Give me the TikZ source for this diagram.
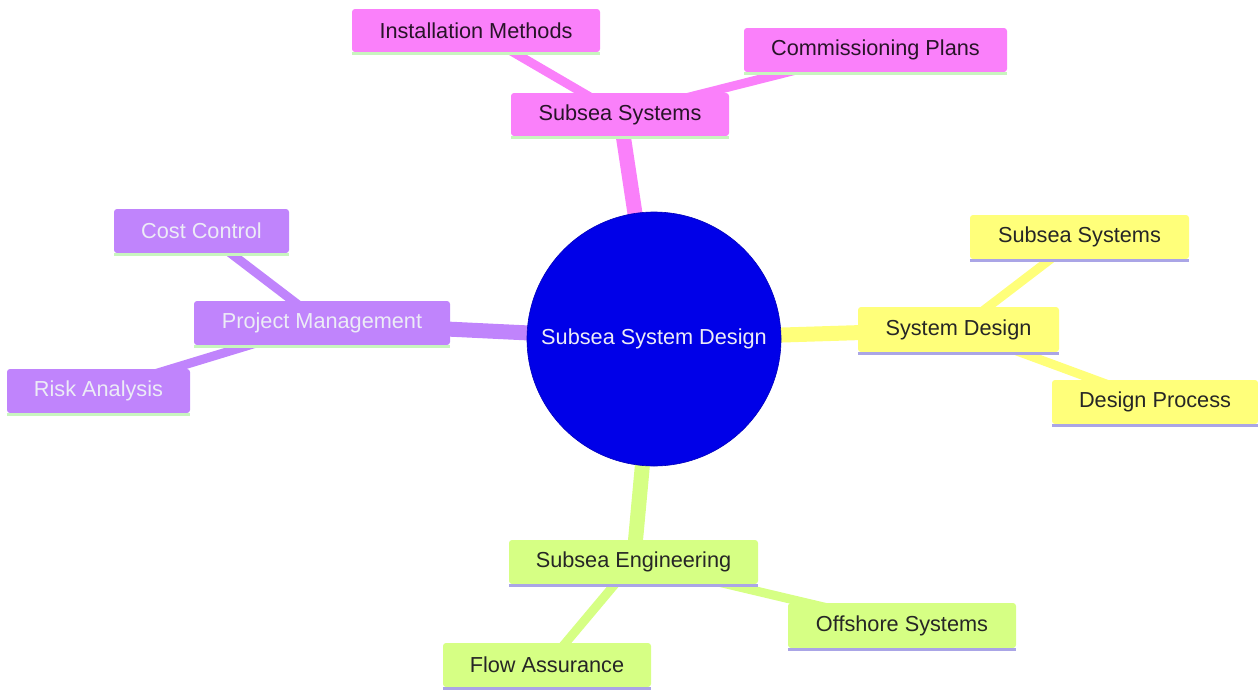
\documentclass[tikz,border=0pt]{standalone}
\usepackage{fontspec}
\setmainfont{Liberation Sans}
\usetikzlibrary{backgrounds}
\definecolor{cblue}{RGB}{0,0,232}
\definecolor{cpink}{RGB}{250,128,250}
\definecolor{cpurple}{RGB}{192,132,252}
\definecolor{cyellow}{RGB}{255,255,122}
\definecolor{cgreen}{RGB}{214,255,132}
\definecolor{ulgreen}{RGB}{200,245,190}
\definecolor{ullav}{RGB}{170,165,230}
\definecolor{ctextdark}{RGB}{40,20,40}
\definecolor{ctextlight}{RGB}{236,236,246}
\tikzset{
  lbl/.style={font=\fontsize{21.7}{26}\selectfont, inner sep=0pt, rounded corners=3pt},
  pinkbox/.style={lbl, fill=cpink, text=ctextdark},
  purplebox/.style={lbl, fill=cpurple, text=ctextlight},
  yellowbox/.style={lbl, fill=cyellow, text=black!85},
  greenbox/.style={lbl, fill=cgreen, text=black!85},
  rootnode/.style={circle, fill=cblue, draw=cblue!80!black, line width=0.6pt, text=ctextlight, font=\fontsize{21.7}{26}\selectfont, inner sep=0pt, minimum size=254},
  edgemain/.style={line width=15pt},
  edgesub/.style={line width=9pt},
  ulg/.style={draw=ulgreen, line width=3pt},
  ull/.style={draw=ullav, line width=3pt},
}
\begin{document}
\begin{tikzpicture}[x=1pt,y=-1pt]
\useasboundingbox (0,0) rectangle (1258,691);
\node[rootnode] (root) at (654,339) {Subsea System Design};
% pink section
\node[pinkbox, minimum width=218, minimum height=43] (ss1) at (620,114.5) {Subsea Systems};
\node[pinkbox, minimum width=248, minimum height=43] (inst) at (476,30.5) {Installation Methods};
\node[pinkbox, minimum width=263, minimum height=44] (comm) at (875.5,50) {Commissioning Plans};
% purple section
\node[purplebox, minimum width=256, minimum height=44] (pm) at (322,323) {Project Management};
\node[purplebox, minimum width=175, minimum height=44] (cost) at (201.5,231) {Cost Control};
\node[purplebox, minimum width=183, minimum height=44] (risk) at (98.5,391) {Risk Analysis};
% yellow section
\node[yellowbox, minimum width=201, minimum height=45] (sd) at (958.5,329.5) {System Design};
\node[yellowbox, minimum width=219, minimum height=44] (ss2) at (1079.5,237) {Subsea Systems};
\node[yellowbox, minimum width=206, minimum height=44] (dp) at (1155,402) {Design Process};
% green section
\node[greenbox, minimum width=249, minimum height=44] (se) at (633.5,562) {Subsea Engineering};
\node[greenbox, minimum width=228, minimum height=45] (off) at (902,625.5) {Offshore Systems};
\node[greenbox, minimum width=208, minimum height=44] (flow) at (547,665) {Flow Assurance};
% underlines
\foreach \n in {ss1,inst,comm,pm,cost,risk}{
  \draw[ulg] ([yshift=-1.5pt]\n.south west) -- ([yshift=-1.5pt]\n.south east);
}
\foreach \n in {sd,ss2,dp,se,off,flow}{
  \draw[ull] ([yshift=-1.5pt]\n.south west) -- ([yshift=-1.5pt]\n.south east);
}
\begin{scope}[on background layer]
  \draw[edgemain, cpink] (root.center) -- (ss1.center);
  \draw[edgemain, cpurple] (root.center) -- (pm.center);
  \draw[edgemain, cyellow] (root.center) -- (sd.center);
  \draw[edgemain, cgreen] (root.center) -- (se.center);
  \draw[edgesub, cpink] (ss1.center) -- (inst.center);
  \draw[edgesub, cpink] (ss1.center) -- (comm.center);
  \draw[edgesub, cpurple] (pm.center) -- (cost.center);
  \draw[edgesub, cpurple] (pm.center) -- (risk.center);
  \draw[edgesub, cyellow] (sd.center) -- (ss2.center);
  \draw[edgesub, cyellow] (sd.center) -- (dp.center);
  \draw[edgesub, cgreen] (se.center) -- (off.center);
  \draw[edgesub, cgreen] (se.center) -- (flow.center);
\end{scope}
\end{tikzpicture}
\end{document}
